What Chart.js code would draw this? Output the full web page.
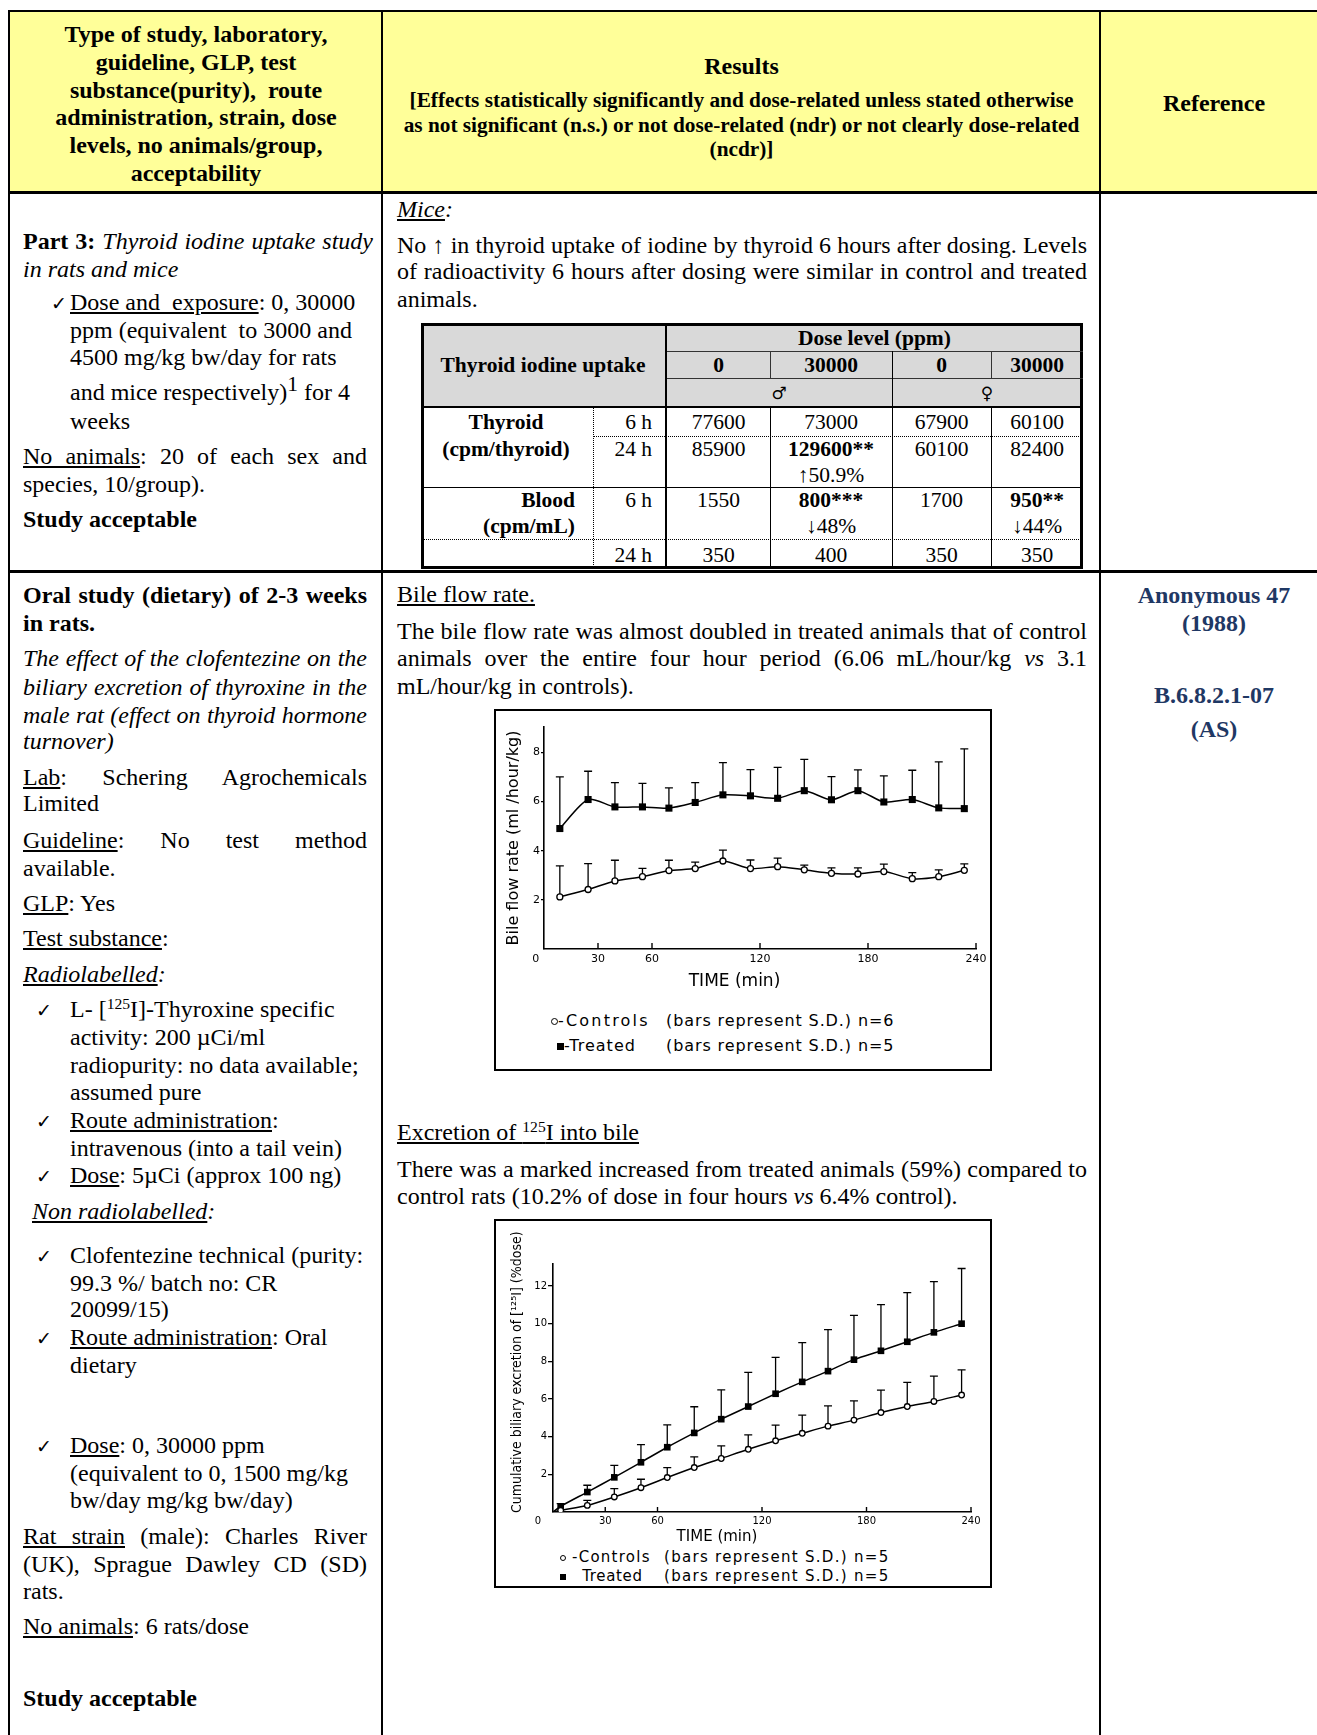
<!DOCTYPE html>
<html><head><meta charset="utf-8">
<script src="https://cdn.jsdelivr.net/npm/chart.js@4.4.1/dist/chart.umd.min.js"></script>
<style>
html,body{margin:0;padding:0;}
body{width:1317px;height:1735px;position:relative;overflow:hidden;background:#fff;font-family:'Liberation Serif','Times New Roman',serif;color:#000;}
.tx{position:absolute;white-space:nowrap;}
.tx.j{white-space:normal;text-align:justify;text-align-last:justify;}
.bx{position:absolute;box-sizing:border-box;}
sup{line-height:0;}
.sym{font-family:'DejaVu Sans',sans-serif;}
.lg{position:absolute;white-space:pre;font-family:'DejaVu Sans',sans-serif;color:#000;}
.mc{display:inline-block;border:1.3px solid #000;border-radius:50%;background:#fff;box-sizing:border-box;vertical-align:middle;}
.ms{display:inline-block;background:#000;vertical-align:middle;}
canvas{position:absolute;}
</style></head>
<body>
<script>
// ---------------- DATA ----------------
// Chart 1: Bile flow rate (ml/hour/kg) vs time (min)
const bileTime      = [8.8, 24.5, 39.4, 54.7, 69.4, 84.0, 99.4, 114.7, 129.8, 144.6, 159.7, 174.4, 188.8, 204.6, 219.3, 233.5];
const bileControl   = [2.12, 2.42, 2.77, 2.94, 3.19, 3.27, 3.58, 3.27, 3.35, 3.22, 3.08, 3.05, 3.15, 2.86, 2.94, 3.20];
const bileControlSD = [1.26, 1.05, 0.84, 0.34, 0.42, 0.26, 0.44, 0.35, 0.35, 0.19, 0.22, 0.25, 0.30, 0.25, 0.28, 0.26];
const bileTreated   = [4.90, 6.08, 5.78, 5.78, 5.73, 5.96, 6.27, 6.23, 6.13, 6.44, 6.07, 6.44, 5.98, 6.08, 5.74, 5.71];
const bileTreatedSD = [2.10, 1.15, 0.99, 0.96, 0.82, 0.81, 1.31, 1.07, 1.26, 1.27, 0.94, 0.85, 1.06, 1.19, 1.87, 2.43];
const bileXTicks    = [0, 30, 60, 120, 180, 240];
const bileYTicks    = [2, 4, 6, 8];

// Chart 2: Cumulative biliary excretion of [125I] (% dose) vs time (min)
const excrTime      = [0, 4.4, 19.7, 35.2, 50.5, 65.6, 81.1, 96.6, 112.1, 127.8, 143.1, 157.9, 172.8, 188.3, 203.4, 218.7, 234.6];
const excrControl   = [0, 0.09, 0.35, 0.80, 1.29, 1.83, 2.36, 2.84, 3.33, 3.78, 4.18, 4.56, 4.88, 5.28, 5.60, 5.87, 6.21];
const excrControlSD = [0, 0, 0.27, 0.44, 0.45, 0.53, 0.57, 0.67, 0.77, 0.83, 0.96, 1.08, 1.02, 1.19, 1.28, 1.35, 1.34];
const excrTreated   = [0, 0.30, 1.06, 1.84, 2.64, 3.44, 4.20, 4.93, 5.60, 6.28, 6.91, 7.48, 8.09, 8.56, 9.04, 9.54, 10.00];
const excrTreatedSD = [0, 0.15, 0.36, 0.64, 0.94, 1.19, 1.39, 1.56, 1.81, 1.93, 2.08, 2.20, 2.35, 2.45, 2.61, 2.69, 2.93];
const excrXTicks    = [0, 30, 60, 120, 180, 240];
const excrYTicks    = [2, 4, 6, 8, 10, 12];

// Inner table (thyroid iodine uptake)
const uptakeCols = ['0', '30000', '0', '30000'];

// ---------------- HELPERS ----------------
function B(x, y, w, h, bg, extra) {
  const d = document.createElement('div');
  d.className = 'bx';
  d.style.cssText = `left:${x}px;top:${y}px;width:${w}px;height:${h}px;background:${bg || '#000'};` + (extra || '');
  document.body.appendChild(d);
  return d;
}
function T(x, y, html, o) {
  o = o || {};
  const lh = o.lh || 28;
  const d = document.createElement('div');
  d.className = 'tx' + (o.w ? ' j' : '');
  d.style.cssText = `left:${x}px;top:${y - lh / 2}px;line-height:${lh}px;height:${lh}px;font-size:${o.f || 24}px;` +
    (o.w ? `width:${o.w}px;` : '') +
    (o.a === 'c' ? 'transform:translateX(-50%);' : o.a === 'r' ? 'transform:translateX(-100%);' : '') +
    (o.b ? 'font-weight:bold;' : '') + (o.col ? `color:${o.col};` : '') + (o.s || '');
  d.innerHTML = html;
  document.body.appendChild(d);
  return d;
}
function LG(x, y, html, fs) {
  const d = document.createElement('div');
  d.className = 'lg';
  d.style.cssText = `left:${x}px;top:${y - 10}px;line-height:20px;height:20px;font-size:${fs}px;`;
  d.innerHTML = html;
  document.body.appendChild(d);
}

// ---------------- MAIN TABLE ----------------
B(10, 12, 1307, 179, '#FFFF99');
B(8, 10, 1309, 2);
B(8, 10, 2, 1725);
B(381, 10, 2, 1725);
B(1099, 10, 2, 1725);
B(8, 191, 1309, 3);
B(8, 570, 1309, 3);

// header
const hdr1 = ['Type of study, laboratory,', 'guideline, GLP, test', 'substance(purity),&nbsp; route',
  'administration, strain, dose', 'levels, no animals/group,', 'acceptability'];
const hdr1Y = [34, 62, 90, 117, 145, 173];
hdr1.forEach((t, i) => T(196, hdr1Y[i], t, { a: 'c', b: 1 }));
T(741.5, 66, 'Results', { a: 'c', b: 1 });
T(741.5, 100, '[Effects statistically significantly and dose-related unless stated otherwise', { a: 'c', b: 1, f: 21.3, lh: 24 });
T(741.5, 125, 'as not significant (n.s.) or not dose-related (ndr) or not clearly dose-related', { a: 'c', b: 1, f: 21.3, lh: 24 });
T(741.5, 149, '(ncdr)]', { a: 'c', b: 1, f: 21.3, lh: 24 });
T(1214, 103, 'Reference', { a: 'c', b: 1 });

// row 1, column 1
T(23, 241, '<b>Part 3:</b> <i>Thyroid iodine uptake study</i>', { w: 350 });
T(23, 269, '<i>in rats and mice</i>');
T(51, 302, '<span class="sym" style="font-size:19px">✓</span>');
T(70, 302, '<u>Dose and&nbsp; exposure</u>: 0, 30000');
T(70, 330, 'ppm (equivalent&nbsp; to 3000 and');
T(70, 357, '4500 mg/kg bw/day for rats');
T(70, 392, 'and mice respectively)<sup style="font-size:0.9em;vertical-align:0.42em">1</sup> for 4');
T(70, 421, 'weeks');
T(23, 456, '<u>No animals</u>: 20 of each sex and', { w: 344 });
T(23, 484, 'species, 10/group).');
T(23, 519, '<b>Study acceptable</b>');

// row 1, column 2
T(397, 209, '<i><u>Mice</u>:</i>');
T(397, 245, 'No ↑ in thyroid uptake of iodine by thyroid 6 hours after dosing. Levels', { w: 690 });
T(397, 271, 'of radioactivity 6 hours after dosing were similar in control and treated', { w: 690 });
T(397, 299, 'animals.');

// inner table
B(421, 323, 662, 246, '#fff', 'border:3px solid #000;');
B(424, 326, 656, 81, '#D9D9D9');
B(421, 406, 662, 2);
B(666, 351, 417, 1, '#333');
B(666, 378, 417, 1, '#333');
B(665, 323, 2, 246);
B(770, 351, 1, 27, '#333'); B(770, 407, 1, 162);
B(892, 351, 1, 218);
B(991, 351, 1, 27, '#333'); B(991, 407, 1, 162);
B(593, 407, 0, 162, 'transparent', 'border-left:1px dotted #000;');
B(593, 436, 490, 0, 'transparent', 'border-top:1px dotted #000;');
B(421, 487, 662, 1);
B(421, 539, 662, 0, 'transparent', 'border-top:1px dotted #000;');

const TF = { f: 21.5, lh: 24, a: 'c' };
const colX = [718.5, 831, 941.5, 1037];
T(543, 365, 'Thyroid iodine uptake', { ...TF, b: 1 });
T(874.5, 338, 'Dose level (ppm)', { ...TF, b: 1 });
uptakeCols.forEach((c, i) => T(colX[i], 365, c, { ...TF, b: 1 }));
T(779, 392, '<span class="sym" style="font-weight:normal;font-size:17px">♂</span>', TF);
T(987, 392, '<span class="sym" style="font-weight:normal;font-size:17px">♀</span>', TF);

T(506, 422, 'Thyroid', { ...TF, b: 1 });
T(506, 449, '(cpm/thyroid)', { ...TF, b: 1 });
T(575, 500, 'Blood', { ...TF, b: 1, a: 'r' });
T(575, 526, '(cpm/mL)', { ...TF, b: 1, a: 'r' });
T(652, 422, '6 h', { ...TF, a: 'r' });
T(652, 449, '24 h', { ...TF, a: 'r' });
T(652, 500, '6 h', { ...TF, a: 'r' });
T(652, 555, '24 h', { ...TF, a: 'r' });
const rows = [
  [422, ['77600', '73000', '67900', '60100']],
  [449, ['85900', '<b>129600**</b>', '60100', '82400']],
  [475, ['', '↑50.9%', '', '']],
  [500, ['1550', '<b>800***</b>', '1700', '<b>950**</b>']],
  [526, ['', '↓48%', '', '↓44%']],
  [555, ['350', '400', '350', '350']]
];
rows.forEach(r => r[1].forEach((v, i) => { if (v) T(colX[i], r[0], v, TF); }));

// row 2, column 1
const CK = '<span class="sym" style="font-size:19px">✓</span>';
T(23, 595, '<b>Oral study (dietary) of 2-3 weeks</b>', { w: 344 });
T(23, 623, '<b>in rats.</b>');
T(23, 658, '<i>The effect of the clofentezine on the</i>', { w: 344 });
T(23, 687, '<i>biliary excretion of thyroxine in the</i>', { w: 344 });
T(23, 715, '<i>male rat (effect on thyroid hormone</i>', { w: 344 });
T(23, 741, '<i>turnover)</i>');
T(23, 777, '<u>Lab</u>: Schering Agrochemicals', { w: 344 });
T(23, 803, 'Limited');
T(23, 840, '<u>Guideline</u>: No test method', { w: 344 });
T(23, 868, 'available.');
T(23, 903, '<u>GLP</u>: Yes');
T(23, 938, '<u>Test substance</u>:');
T(23, 974, '<i><u>Radiolabelled</u>:</i>');
T(36, 1009, CK); T(70, 1009, 'L- [<sup style="font-size:0.65em;vertical-align:0.5em">125</sup>I]-Thyroxine specific');
T(70, 1037, 'activity: 200 µCi/ml');
T(70, 1065, 'radiopurity: no data available;');
T(70, 1092, 'assumed pure');
T(36, 1120, CK); T(70, 1120, '<u>Route administration</u>:');
T(70, 1148, 'intravenous (into a tail vein)');
T(36, 1175, CK); T(70, 1175, '<u>Dose</u>: 5µCi (approx 100 ng)');
T(32, 1211, '<i><u>Non radiolabelled</u>:</i>');
T(36, 1255, CK); T(70, 1255, 'Clofentezine technical (purity:');
T(70, 1283, '99.3 %/ batch no: CR');
T(70, 1309, '20099/15)');
T(36, 1337, CK); T(70, 1337, '<u>Route administration</u>: Oral');
T(70, 1365, 'dietary');
T(36, 1445, CK); T(70, 1445, '<u>Dose</u>: 0, 30000 ppm');
T(70, 1473, '(equivalent to 0, 1500 mg/kg');
T(70, 1500, 'bw/day mg/kg bw/day)');
T(23, 1536, '<u>Rat strain</u> (male): Charles River', { w: 344 });
T(23, 1564, '(UK), Sprague Dawley CD (SD)', { w: 344 });
T(23, 1591, 'rats.');
T(23, 1626, '<u>No animals</u>: 6 rats/dose');
T(23, 1698, '<b>Study acceptable</b>');

// row 2, column 2
T(397, 594, '<u>Bile flow rate.</u>');
T(397, 631, 'The bile flow rate was almost doubled in treated animals that of control', { w: 690 });
T(397, 658, 'animals over the entire four hour period (6.06 mL/hour/kg <i>vs</i> 3.1', { w: 690 });
T(397, 686, 'mL/hour/kg in controls).');
T(397, 1132, '<u>Excretion of <sup style="font-size:0.65em;vertical-align:0.5em">125</sup>I into bile</u>');
T(397, 1169, 'There was a marked increased from treated animals (59%) compared to', { w: 690 });
T(397, 1196, 'control rats (10.2% of dose in four hours <i>vs</i> 6.4% control).');

// row 2, column 3
const NAVY = '#1F3864';
T(1214, 595, 'Anonymous 47', { a: 'c', b: 1, col: NAVY });
T(1214, 623, '(1988)', { a: 'c', b: 1, col: NAVY });
T(1214, 695, 'B.6.8.2.1-07', { a: 'c', b: 1, col: NAVY });
T(1214, 729, '(AS)', { a: 'c', b: 1, col: NAVY });

// chart frames
B(494, 709, 498, 362, '#fff', 'border:2px solid #000;');
B(494, 1219, 498, 369, '#fff', 'border:2px solid #000;');

function mkCanvas(id, x, y, w, h) {
  const c = document.createElement('canvas');
  c.id = id; c.width = w; c.height = h;
  c.style.left = x + 'px'; c.style.top = y + 'px';
  document.body.appendChild(c);
  return c;
}
const cv1 = mkCanvas('c1', 496, 711, 494, 282);
const cv2 = mkCanvas('c2', 496, 1221, 494, 326);

// legends
LG(551, 1021, '<span class="mc" style="width:7px;height:7px"></span><span style="letter-spacing:2.2px">-Controls</span>', 16);
LG(666, 1021, '<span style="letter-spacing:0.9px">(bars represent S.D.) n=6</span>', 16);
LG(557, 1046, '<span class="ms" style="width:7px;height:7px"></span><span style="letter-spacing:1px">-Treated</span>', 16);
LG(666, 1046, '<span style="letter-spacing:0.9px">(bars represent S.D.) n=5</span>', 16);
LG(560, 1557, '<span class="mc" style="width:6px;height:6px"></span><span style="letter-spacing:1.25px"> -Controls</span>', 15);
LG(664, 1557, '<span style="letter-spacing:1.3px">(bars represent S.D.) n=5</span>', 15);
LG(560, 1576, '<span class="ms" style="width:6px;height:6px"></span><span style="letter-spacing:0.65px">&nbsp;&nbsp; Treated</span>', 15);
LG(664, 1576, '<span style="letter-spacing:1.3px">(bars represent S.D.) n=5</span>', 15);

// ---------------- CHARTS ----------------
Chart.defaults.font.family = "'DejaVu Sans', sans-serif";
Chart.defaults.color = '#000';

const errorBarPlugin = {
  id: 'errorBars',
  beforeDatasetsDraw(chart) {
    const ctx = chart.ctx, ys = chart.scales.y;
    chart.data.datasets.forEach((ds, i) => {
      if (!ds.sd) return;
      const meta = chart.getDatasetMeta(i);
      ctx.save();
      ctx.strokeStyle = '#000';
      ctx.lineWidth = 1.3;
      meta.data.forEach((pt, j) => {
        const sd = ds.sd[j];
        if (!sd) return;
        const top = ys.getPixelForValue(ds.data[j].y + sd);
        ctx.beginPath();
        ctx.moveTo(pt.x, pt.y); ctx.lineTo(pt.x, top);
        ctx.moveTo(pt.x - 4, top); ctx.lineTo(pt.x + 4, top);
        ctx.stroke();
      });
      ctx.restore();
    });
  }
};
const upTicksPlugin = {
  id: 'upTicks',
  afterDraw(chart, args, opts) {
    const ctx = chart.ctx, xs = chart.scales.x, b = chart.chartArea.bottom;
    ctx.save();
    ctx.strokeStyle = '#000';
    ctx.lineWidth = 1.4;
    (opts.values || []).forEach(v => {
      const x = xs.getPixelForValue(v);
      ctx.beginPath(); ctx.moveTo(x, b); ctx.lineTo(x, b - opts.len); ctx.stroke();
    });
    ctx.restore();
  }
};

function series(times, vals) { return times.map((t, i) => ({ x: t, y: vals[i] })); }

function makeChart(canvas, cfg) {
  return new Chart(canvas, {
    type: 'line',
    data: {
      datasets: [
        {
          label: 'Controls', data: series(cfg.time, cfg.control), sd: cfg.controlSD,
          borderColor: '#000', borderWidth: 1.5, tension: 0.25,
          pointStyle: 'circle', pointRadius: ctx => (cfg.time[ctx.dataIndex] === 0 ? 0 : cfg.circleR),
          pointBackgroundColor: '#fff', pointBorderColor: '#000', pointBorderWidth: 1.3
        },
        {
          label: 'Treated', data: series(cfg.time, cfg.treated), sd: cfg.treatedSD,
          borderColor: '#000', borderWidth: 1.5, tension: 0.25,
          pointStyle: 'rect', pointRadius: ctx => (cfg.time[ctx.dataIndex] === 0 ? 0 : cfg.rectR),
          pointBackgroundColor: '#000', pointBorderColor: '#000', pointBorderWidth: 0
        }
      ]
    },
    options: {
      responsive: false, animation: false, devicePixelRatio: 1,
      layout: { padding: { left: 0, top: cfg.padTop, right: cfg.padRight, bottom: 0 } },
      plugins: { legend: { display: false }, tooltip: { enabled: false },
        upTicks: { values: cfg.xTicks.filter(v => v > 0), len: cfg.upLen } },
      scales: {
        x: {
          type: 'linear', min: 0, max: 240,
          afterBuildTicks: s => { s.ticks = cfg.xTicks.map(v => ({ value: v })); },
          afterFit: s => { s.height = cfg.xAxisH; },
          grid: { display: false, drawTicks: false },
          border: { display: true, color: '#000', width: 1.6 },
          ticks: { padding: cfg.xPad, font: { size: cfg.tickFont }, color: '#000', maxRotation: 0, autoSkip: false,
            callback: v => (v === 0 ? '0' + cfg.zeroShift : String(v)) },
          title: { display: true, text: 'TIME (min)' + cfg.xTitleShift, color: '#000',
            font: { size: cfg.xTitleFont, lineHeight: 1 }, padding: { top: 0, bottom: 2.5 } }
        },
        y: {
          min: 0, max: cfg.yMax,
          afterBuildTicks: s => { s.ticks = cfg.yTicks.map(v => ({ value: v })); },
          afterFit: s => { s.width = cfg.yAxisW; },
          grid: { drawOnChartArea: false, drawTicks: true, tickLength: cfg.yTickLen, color: '#000', lineWidth: 1.3 },
          border: { display: true, color: '#000', width: 1.6 },
          ticks: { padding: 1, font: { size: cfg.tickFont }, color: '#000' },
          title: { display: true, text: cfg.yTitle, color: '#000',
            font: { size: cfg.yTitleFont, lineHeight: 1, family: cfg.yTitleFamily }, padding: { top: cfg.yTitlePad, bottom: 0 } }
        }
      }
    },
    plugins: [errorBarPlugin, upTicksPlugin]
  });
}

makeChart(cv1, {
  time: bileTime, control: bileControl, controlSD: bileControlSD, treated: bileTreated, treatedSD: bileTreatedSD,
  xTicks: bileXTicks, yTicks: bileYTicks, yMax: 9.03,
  padTop: 16, padRight: 12, xAxisH: 44, yAxisW: 48, xPad: 3.5, tickFont: 11, upLen: 6, yTickLen: 3,
  circleR: 3, rectR: 5, zeroShift: '\u2003\u2002', xTitleShift: '\u2003\u2003\u2003', xTitleFont: 17,
  yTitle: 'Bile flow rate (ml /hour/kg)', yTitleFont: 16, yTitleFamily: "'DejaVu Sans', sans-serif", yTitlePad: 10
});

makeChart(cv2, {
  time: excrTime, control: excrControl, controlSD: excrControlSD, treated: excrTreated, treatedSD: excrTreatedSD,
  xTicks: excrXTicks, yTicks: excrYTicks, yMax: 13.17,
  padTop: 43, padRight: 19, xAxisH: 35, yAxisW: 57, xPad: 3, tickFont: 10, upLen: 5, yTickLen: 5,
  circleR: 2.8, rectR: 4.7, zeroShift: '\u2003\u2003\u2003', xTitleShift: '\u2003\u2003\u2003\u2003\u2003\u2003', xTitleFont: 15,
  yTitle: '\u2003\u2003\u2002Cumulative biliary excretion of [\u00B9\u00B2\u2075I] (%dose)', yTitleFont: 14,
  yTitleFamily: "'DejaVu Sans Condensed', 'DejaVu Sans', sans-serif", yTitlePad: 14
});
</script>
</body></html>
